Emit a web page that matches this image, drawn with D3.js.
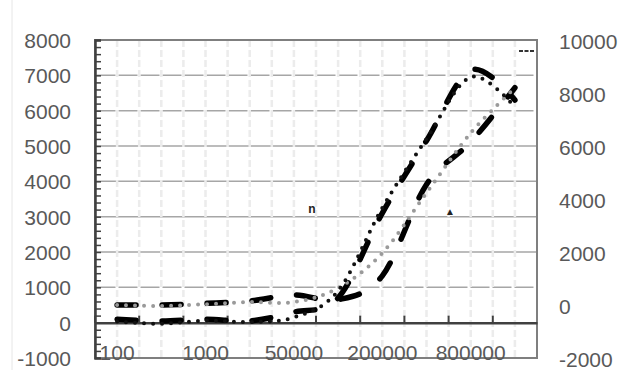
<!DOCTYPE html>
<html>
<head>
<meta charset="utf-8">
<script src="https://cdn.jsdelivr.net/npm/d3@7"></script>
<style>
  body { margin: 0; background: #fff; }
  text { font-family: "Liberation Sans", Arial, sans-serif; }
</style>
</head>
<body>
<div id="chart"></div>
<script>
// categories (every other label is shown on the axis)
const categories = ["100", "500", "1000", "5000", "50000", "100000", "200000", "400000", "800000", "1600000"];
const shownLabels = ["100", "1000", "50000", "200000", "800000"];

const leftTicks = [-1000, 0, 1000, 2000, 3000, 4000, 5000, 6000, 7000, 8000];
const rightTicks = [-2000, 0, 2000, 4000, 6000, 8000, 10000];

// left axis series
const earlyDashed = [100, 50, 100, 50, 300, 700, 3100, 5150, 7150, 6300];
const blackDotted = [30, -30, 60, 20, 150, 900, 3250, 5200, 6950, 6100];
// right axis series
const lateDashed = [0, 0, 60, 150, 380, 200, 1100, 4550, 6150, 8200];
const grayDotted = [0, -40, 30, 110, 110, 640, 1960, 4230, 6490, 8190];

const dashedGridValues = [7000, 6000, 1000];

const W = 622, H = 370;
const pLeft = 95, pRight = 537, pTop = 40, pBottom = 358;
const plain = d => String(d);

const svg = d3.select("#chart").append("svg")
  .attr("width", W).attr("height", H);

const x = d3.scaleBand().domain(categories).range([pLeft, pRight]).padding(0);
const cx = d => x(d) + x.bandwidth() / 2;
const yL = d3.scaleLinear().domain([-1000, 8000]).range([pBottom, pTop]);
const yR = d3.scaleLinear().domain([-2000, 10000]).range([pBottom, pTop]);

// faint outer edge
svg.append("line").attr("x1", 12).attr("x2", 12).attr("y1", 0).attr("y2", H)
  .attr("stroke", "#e6e6e6").attr("stroke-width", 1);

// horizontal gridlines
svg.append("g").selectAll("line")
  .data(leftTicks.filter(v => v !== 0 && v !== 8000 && v !== -1000))
  .enter().append("line")
  .attr("x1", pLeft).attr("x2", pRight)
  .attr("y1", d => yL(d)).attr("y2", d => yL(d))
  .attr("stroke", "#a6a6a6").attr("stroke-width", 1.5)
  .attr("stroke-dasharray", d => dashedGridValues.includes(d) ? "19,3" : null)
  .attr("stroke-dashoffset", -1.5);

// vertical minor gridlines, every half category
const half = x.bandwidth() / 2;
const vLines = d3.range(1, categories.length * 2).map(i => pLeft + i * half);
svg.append("g").selectAll("line")
  .data(vLines)
  .enter().append("line")
  .attr("x1", d => d).attr("x2", d => d)
  .attr("y1", pTop).attr("y2", pBottom)
  .attr("stroke", "#ececec").attr("stroke-width", 2.5)
  .attr("stroke-dasharray", "7,3");

// plot border
svg.append("rect")
  .attr("x", pLeft).attr("y", pTop)
  .attr("width", pRight - pLeft).attr("height", pBottom - pTop)
  .attr("fill", "none").attr("stroke", "#7f7f7f").attr("stroke-width", 2);

// left axis: line with minor ticks pointing in
const minor = d3.range(-1000, 8001, 200);
svg.append("g")
  .attr("transform", `translate(${pLeft},0)`)
  .call(d3.axisRight(yL).tickValues(minor).tickSize(6).tickFormat(""))
  .call(g => g.selectAll("line").attr("stroke", "#404040").attr("stroke-width", 1.5))
  .call(g => g.select(".domain").attr("stroke", "#404040").attr("stroke-width", 2.5));

// left labels
svg.append("g")
  .attr("transform", `translate(${pLeft},0)`)
  .call(d3.axisLeft(yL).tickValues(leftTicks).tickSize(0).tickPadding(24).tickFormat(plain))
  .call(g => g.select(".domain").remove())
  .call(g => g.selectAll("text")
    .attr("font-size", 21).attr("fill", "#595959")
    .attr("font-family", "Liberation Sans, Arial, sans-serif")
    .attr("dy", "0.36em"));

// right labels
svg.append("g")
  .attr("transform", `translate(${pRight},0)`)
  .call(d3.axisRight(yR).tickValues(rightTicks).tickSize(0).tickPadding(22).tickFormat(plain))
  .call(g => g.select(".domain").remove())
  .call(g => g.selectAll("text")
    .attr("font-size", 21).attr("fill", "#595959")
    .attr("font-family", "Liberation Sans, Arial, sans-serif")
    .attr("dy", "0.42em"));

// x axis at zero
const xAxis = d3.axisBottom(x).tickSizeInner(-7).tickSizeOuter(0).tickFormat("");
svg.append("g")
  .attr("transform", `translate(0,${yL(0)})`)
  .call(xAxis)
  .call(g => g.selectAll(".tick").attr("transform", d => `translate(${x(d)},0)`))
  .call(g => g.selectAll("line").attr("stroke", "#404040").attr("stroke-width", 2))
  .call(g => g.select(".domain").attr("stroke", "#404040").attr("stroke-width", 2.5));

// x labels at the bottom
svg.append("g").selectAll("text")
  .data(categories.filter(c => shownLabels.includes(c)))
  .enter().append("text")
  .attr("x", d => cx(d)).attr("y", 360)
  .attr("text-anchor", "middle")
  .attr("font-size", 21).attr("fill", "#595959")
  .text(d => d);

// series
const lineL = d3.line().x((d, i) => cx(categories[i])).y(d => yL(d)).curve(d3.curveCardinal.tension(0));
const lineR = d3.line().x((d, i) => cx(categories[i])).y(d => yR(d)).curve(d3.curveCardinal.tension(0));

svg.append("path").datum(earlyDashed).attr("d", lineL)
  .attr("fill", "none").attr("stroke", "#000").attr("stroke-width", 5.5)
  .attr("stroke-linecap", "round").attr("stroke-dasharray", "19,26");

svg.append("path").datum(lateDashed).attr("d", lineR)
  .attr("fill", "none").attr("stroke", "#000").attr("stroke-width", 5.5)
  .attr("stroke-linecap", "round").attr("stroke-dasharray", "19,26");

svg.append("path").datum(grayDotted).attr("d", lineR)
  .attr("fill", "none").attr("stroke", "#9a9a9a").attr("stroke-width", 4)
  .attr("stroke-linecap", "round").attr("stroke-dasharray", "0,9");

svg.append("path").datum(blackDotted).attr("d", lineL)
  .attr("fill", "none").attr("stroke", "#111").attr("stroke-width", 4)
  .attr("stroke-linecap", "round").attr("stroke-dasharray", "0,9");

// stray label fragments
svg.append("text").attr("x", 312).attr("y", 213).attr("text-anchor", "middle")
  .attr("font-size", 12).attr("font-weight", "bold").attr("fill", "#222").text("n");
svg.append("text").attr("x", 450).attr("y", 215).attr("text-anchor", "middle")
  .attr("font-size", 10).attr("font-weight", "bold").attr("fill", "#222").text("▲");
svg.append("line").attr("x1", 519).attr("x2", 535).attr("y1", 51).attr("y2", 51)
  .attr("stroke", "#333").attr("stroke-width", 2).attr("stroke-dasharray", "4,1.5");
</script>
</body>
</html>
